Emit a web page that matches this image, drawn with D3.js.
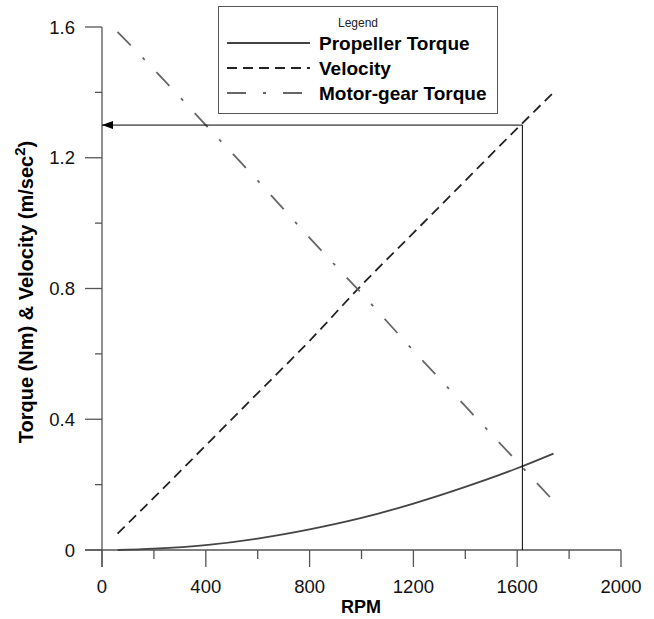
<!DOCTYPE html>
<html>
<head>
<meta charset="utf-8">
<script src="https://cdn.jsdelivr.net/npm/d3@7"></script>
<style>
  body { margin: 0; background: #fff; }
  svg { display: block; font-family: "Liberation Sans", Arial, sans-serif; }
</style>
</head>
<body>
<div id="chart"></div>
<script>
// values
const rpm = [60, 200, 400, 600, 800, 1000, 1200, 1400, 1600, 1740];
const propellerTorque = [0, 0.004, 0.015, 0.035, 0.063, 0.098, 0.142, 0.193, 0.25, 0.295];
const velocity = [0.05, 0.16, 0.32, 0.48, 0.64, 0.81, 0.97, 1.13, 1.29, 1.40];
const motorGearTorque = [1.585, 1.47, 1.30, 1.13, 0.955, 0.785, 0.61, 0.44, 0.27, 0.15];
const xTicks = [0, 400, 800, 1200, 1600, 2000];
const xMinor = [200, 600, 1000, 1400, 1800];
const yTicks = [0, 0.4, 0.8, 1.2, 1.6];
const yMinor = [0.2, 0.6, 1.0, 1.4];
const operatingRpm = 1620, operatingValue = 1.3;

const width = 654, height = 619;
const x = d3.scaleLinear().domain([0, 2000]).range([102, 621]);
const y = d3.scaleLinear().domain([0, 1.6]).range([550, 27]);

const svg = d3.select('#chart').append('svg')
  .attr('width', width).attr('height', height);

const axisColor = '#555';

// axis lines
svg.append('line').attr('x1', x(0)).attr('x2', x(0)).attr('y1', y(1.6)).attr('y2', 567)
  .attr('stroke', axisColor).attr('stroke-width', 1.3);
svg.append('line').attr('x1', 85).attr('x2', x(2000)).attr('y1', y(0)).attr('y2', y(0))
  .attr('stroke', axisColor).attr('stroke-width', 1.3);

// x ticks
svg.selectAll('.xt').data(xTicks).enter().append('line')
  .attr('x1', d => x(d)).attr('x2', d => x(d)).attr('y1', y(0)).attr('y2', 567)
  .attr('stroke', axisColor).attr('stroke-width', 1.3);
svg.selectAll('.xm').data(xMinor).enter().append('line')
  .attr('x1', d => x(d)).attr('x2', d => x(d)).attr('y1', y(0)).attr('y2', 559)
  .attr('stroke', axisColor).attr('stroke-width', 1.3);
svg.selectAll('.xl').data(xTicks).enter().append('text')
  .attr('x', d => x(d)).attr('y', 593).attr('text-anchor', 'middle')
  .attr('font-size', 18.5).attr('fill', '#111').text(d => d);

// y ticks
svg.selectAll('.yt').data(yTicks).enter().append('line')
  .attr('x1', 85).attr('x2', x(0)).attr('y1', d => y(d)).attr('y2', d => y(d))
  .attr('stroke', axisColor).attr('stroke-width', 1.3);
svg.selectAll('.ym').data(yMinor).enter().append('line')
  .attr('x1', 95).attr('x2', x(0)).attr('y1', d => y(d)).attr('y2', d => y(d))
  .attr('stroke', axisColor).attr('stroke-width', 1.3);
svg.selectAll('.yl').data(yTicks).enter().append('text')
  .attr('x', 75).attr('y', d => y(d) + 6.5).attr('text-anchor', 'end')
  .attr('font-size', 18.5).attr('fill', '#111').text(d => d === 0 ? '0' : d.toFixed(1));

// axis titles
svg.append('text').attr('x', 361).attr('y', 613).attr('text-anchor', 'middle')
  .attr('font-size', 18).attr('font-weight', 'bold').text('RPM');
const yt = svg.append('text')
  .attr('transform', 'translate(33,292) rotate(-90)')
  .attr('text-anchor', 'middle').attr('font-size', 20).attr('font-weight', 'bold');
yt.append('tspan').text('Torque (Nm) & Velocity (m/sec');
yt.append('tspan').attr('baseline-shift', 'super').attr('font-size', 15).text('2');
yt.append('tspan').text(')');

// series
const series = [
  { name: 'Propeller Torque', values: propellerTorque, color: '#444', dash: null },
  { name: 'Velocity', values: velocity, color: '#222', dash: '10,6' },
  { name: 'Motor-gear Torque', values: motorGearTorque, color: '#666', dash: '19,17,3,17' }
];
const line = d3.line().x((d, i) => x(rpm[i])).y(d => y(d)).curve(d3.curveMonotoneX);
series.forEach(s => {
  svg.append('path').datum(s.values).attr('d', line)
    .attr('fill', 'none').attr('stroke', s.color).attr('stroke-width', 1.8)
    .attr('stroke-dasharray', s.dash);
});

// operating point arrow
svg.append('defs').append('marker').attr('id', 'arrow')
  .attr('viewBox', '0 0 11 8').attr('refX', 0).attr('refY', 4)
  .attr('markerWidth', 11).attr('markerHeight', 8).attr('markerUnits', 'userSpaceOnUse')
  .attr('orient', 'auto')
  .append('path').attr('d', 'M0,4L11,0L11,8Z').attr('fill', '#000');
svg.append('line').attr('x1', x(0)).attr('x2', x(operatingRpm))
  .attr('y1', y(operatingValue)).attr('y2', y(operatingValue))
  .attr('stroke', '#000').attr('stroke-width', 1).attr('marker-start', 'url(#arrow)');
svg.append('line').attr('x1', x(operatingRpm)).attr('x2', x(operatingRpm))
  .attr('y1', y(operatingValue)).attr('y2', y(0))
  .attr('stroke', '#000').attr('stroke-width', 1);

// legend
const lg = svg.append('g');
lg.append('rect').attr('x', 218.5).attr('y', 6.5).attr('width', 279).attr('height', 107)
  .attr('fill', '#fff').attr('stroke', '#555').attr('stroke-width', 1);
lg.append('text').attr('x', 358).attr('y', 27).attr('text-anchor', 'middle')
  .attr('font-size', 12).attr('fill', '#222').text('Legend');
series.forEach((s, i) => {
  const ry = 43 + i * 25;
  lg.append('line').attr('x1', 227).attr('x2', 310).attr('y1', ry).attr('y2', ry)
    .attr('stroke', s.color).attr('stroke-width', 1.8).attr('stroke-dasharray', s.dash);
  lg.append('text').attr('x', 319).attr('y', ry + 7)
    .attr('font-size', 19).attr('font-weight', 'bold').text(s.name);
});
</script>
</body>
</html>
